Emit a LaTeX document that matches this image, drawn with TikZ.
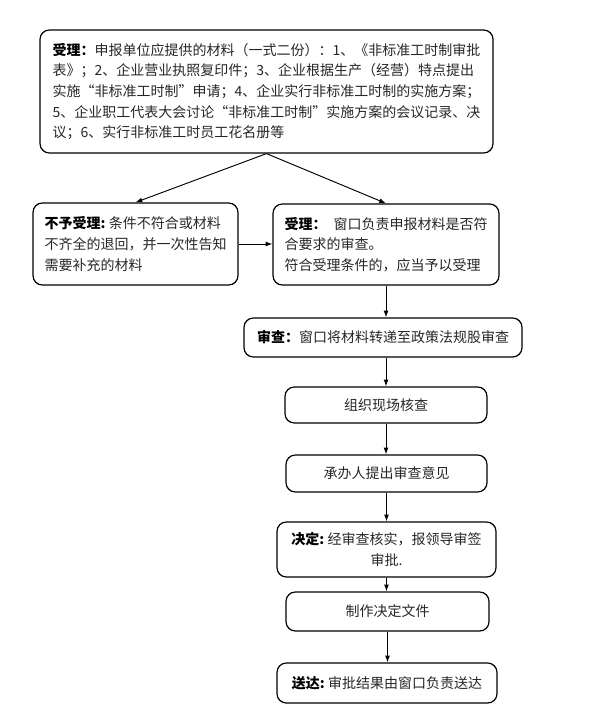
\documentclass[tikz,border=0pt]{standalone}
\usepackage{fontspec}
\setmainfont{Noto Sans CJK SC}
\usetikzlibrary{arrows.meta, positioning}
\XeTeXlinebreaklocale "zh"

\begin{document}
\begin{tikzpicture}[x=0.75pt,y=-0.75pt,
        box/.style={draw, line width=0.9pt, rounded corners=7pt, align=left,
                    inner sep=0pt, text=black!85,
                    font={\fontsize{10.5}{15.5}\selectfont}},
        flow/.style={-{Latex[length=1.8mm,width=1.3mm]}, line width=0.7pt}]
        \useasboundingbox (0,0) rectangle (594,721);

            % application and first decision
            \node[box, minimum width=339.75pt, minimum height=92.25pt] (apply) at (266.5,91.5)
                {\textbf{\color{black}受理：}申报单位应提供的材料（一式二份）：1、《非标准工时制审批\\
                 表》；2、企业营业执照复印件；3、企业根据生产（经营）特点提出\\
                 实施“非标准工时制”申请；4、企业实行非标准工时制的实施方案；\\
                 5、企业职工代表大会讨论“非标准工时制”实施方案的会议记录、决\\
                 议；6、实行非标准工时员工花名册等};
            \node[box, minimum width=153.75pt, minimum height=61.5pt] (reject) at (135.5,244)
                {\textbf{\color{black}不予受理:}\hspace{0.25em}条件不符合或材料\\
                 不齐全的退回，并一次性告知\\
                 需要补充的材料};
            \node[box, minimum width=169.5pt, minimum height=60.75pt] (accept) at (386,244.5)
                {\textbf{\color{black}受理：}\hspace{0.5em}窗口负责申报材料是否符\\
                 合要求的审查。\\
                 符合受理条件的，应当予以受理};

            % review chain
            \node[box, minimum width=208.5pt, minimum height=29.25pt] (review) at (383,337.5)
                {\textbf{\color{black}审查：}窗口将材料转递至政策法规股审查};
            \node[box, minimum width=151.5pt, minimum height=27pt] (site) at (386,405) {组织现场核查};
            \node[box, minimum width=150.75pt, minimum height=27.75pt] (opinion) at (386.5,473.5) {承办人提出审查意见};
            \node[box, align=center, minimum width=164.25pt, minimum height=41.25pt] (decide) at (386.5,549.5)
                {\textbf{\color{black}决定:}\hspace{0.25em}经审查核实，报领导审签\\审批.};
            \node[box, minimum width=152.25pt, minimum height=29.25pt] (document) at (387.5,611.5) {制作决定文件};
            \node[box, minimum width=165pt, minimum height=30pt] (deliver) at (387,683)
                {\textbf{\color{black}送达:}\hspace{0.25em}审批结果由窗口负责送达};

            \draw[flow] (apply.south) -- (reject.north);
            \draw[flow] (apply.south) -- (accept.north);
            \draw[flow] (reject.east) -- (reject.east -| accept.west);
            \draw[flow] (accept.south) -- (accept.south |- review.north);
            \draw[flow] (accept.south |- review.south) -- (accept.south |- site.north);
            \draw[flow] (site.south) -- (site.south |- opinion.north);
            \draw[flow] (opinion.south) -- (opinion.south |- decide.north);
            \draw[flow] (decide.south) -- (decide.south |- document.north);
            \draw[flow] (document.south) -- (document.south |- deliver.north);
        \end{tikzpicture}
\end{document}
